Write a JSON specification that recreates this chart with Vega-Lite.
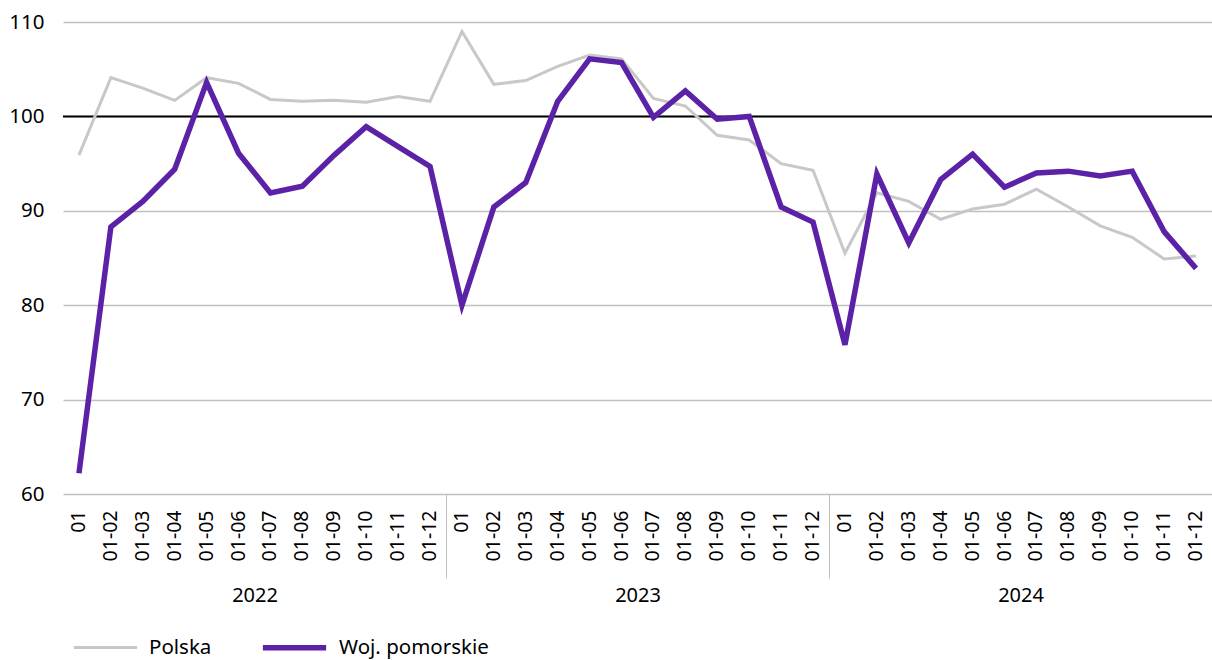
{
  "$schema": "https://vega.github.io/schema/vega-lite/v6.json",
  "width": 1149,
  "height": 472,
  "autosize": {"type": "none"},
  "padding": {"left": 63, "top": 22, "right": 0, "bottom": 166},
  "config": {"view": {"stroke": null}, "font": "Noto Sans"},
  "layer": [
    {
      "data": {"values": [{}]},
      "mark": {"type": "rule", "color": "black", "strokeWidth": 2},
      "encoding": {"y": {"datum": 100}}
    },
    {
      "data": {"values": [
        {"t": "2022 01", "s": "Polska", "v": 95.9},
        {"t": "2022 01-02", "s": "Polska", "v": 104.1},
        {"t": "2022 01-03", "s": "Polska", "v": 103.0},
        {"t": "2022 01-04", "s": "Polska", "v": 101.7},
        {"t": "2022 01-05", "s": "Polska", "v": 104.1},
        {"t": "2022 01-06", "s": "Polska", "v": 103.5},
        {"t": "2022 01-07", "s": "Polska", "v": 101.8},
        {"t": "2022 01-08", "s": "Polska", "v": 101.6},
        {"t": "2022 01-09", "s": "Polska", "v": 101.7},
        {"t": "2022 01-10", "s": "Polska", "v": 101.5},
        {"t": "2022 01-11", "s": "Polska", "v": 102.1},
        {"t": "2022 01-12", "s": "Polska", "v": 101.6},
        {"t": "2023 01", "s": "Polska", "v": 109.0},
        {"t": "2023 01-02", "s": "Polska", "v": 103.4},
        {"t": "2023 01-03", "s": "Polska", "v": 103.8},
        {"t": "2023 01-04", "s": "Polska", "v": 105.3},
        {"t": "2023 01-05", "s": "Polska", "v": 106.5},
        {"t": "2023 01-06", "s": "Polska", "v": 106.1},
        {"t": "2023 01-07", "s": "Polska", "v": 101.9},
        {"t": "2023 01-08", "s": "Polska", "v": 101.1},
        {"t": "2023 01-09", "s": "Polska", "v": 98.0},
        {"t": "2023 01-10", "s": "Polska", "v": 97.5},
        {"t": "2023 01-11", "s": "Polska", "v": 95.0},
        {"t": "2023 01-12", "s": "Polska", "v": 94.3},
        {"t": "2024 01", "s": "Polska", "v": 85.5},
        {"t": "2024 01-02", "s": "Polska", "v": 91.9},
        {"t": "2024 01-03", "s": "Polska", "v": 91.0},
        {"t": "2024 01-04", "s": "Polska", "v": 89.1},
        {"t": "2024 01-05", "s": "Polska", "v": 90.2},
        {"t": "2024 01-06", "s": "Polska", "v": 90.7},
        {"t": "2024 01-07", "s": "Polska", "v": 92.3},
        {"t": "2024 01-08", "s": "Polska", "v": 90.4},
        {"t": "2024 01-09", "s": "Polska", "v": 88.4},
        {"t": "2024 01-10", "s": "Polska", "v": 87.2},
        {"t": "2024 01-11", "s": "Polska", "v": 84.9},
        {"t": "2024 01-12", "s": "Polska", "v": 85.2},
        {"t": "2022 01", "s": "Woj. pomorskie", "v": 62.2},
        {"t": "2022 01-02", "s": "Woj. pomorskie", "v": 88.3},
        {"t": "2022 01-03", "s": "Woj. pomorskie", "v": 91.0},
        {"t": "2022 01-04", "s": "Woj. pomorskie", "v": 94.4},
        {"t": "2022 01-05", "s": "Woj. pomorskie", "v": 103.6},
        {"t": "2022 01-06", "s": "Woj. pomorskie", "v": 96.1},
        {"t": "2022 01-07", "s": "Woj. pomorskie", "v": 91.9},
        {"t": "2022 01-08", "s": "Woj. pomorskie", "v": 92.6},
        {"t": "2022 01-09", "s": "Woj. pomorskie", "v": 95.9},
        {"t": "2022 01-10", "s": "Woj. pomorskie", "v": 98.9},
        {"t": "2022 01-11", "s": "Woj. pomorskie", "v": 96.8},
        {"t": "2022 01-12", "s": "Woj. pomorskie", "v": 94.7},
        {"t": "2023 01", "s": "Woj. pomorskie", "v": 80.0},
        {"t": "2023 01-02", "s": "Woj. pomorskie", "v": 90.4},
        {"t": "2023 01-03", "s": "Woj. pomorskie", "v": 93.0},
        {"t": "2023 01-04", "s": "Woj. pomorskie", "v": 101.6},
        {"t": "2023 01-05", "s": "Woj. pomorskie", "v": 106.1},
        {"t": "2023 01-06", "s": "Woj. pomorskie", "v": 105.7},
        {"t": "2023 01-07", "s": "Woj. pomorskie", "v": 99.9},
        {"t": "2023 01-08", "s": "Woj. pomorskie", "v": 102.7},
        {"t": "2023 01-09", "s": "Woj. pomorskie", "v": 99.7},
        {"t": "2023 01-10", "s": "Woj. pomorskie", "v": 100.0},
        {"t": "2023 01-11", "s": "Woj. pomorskie", "v": 90.4},
        {"t": "2023 01-12", "s": "Woj. pomorskie", "v": 88.8},
        {"t": "2024 01", "s": "Woj. pomorskie", "v": 75.8},
        {"t": "2024 01-02", "s": "Woj. pomorskie", "v": 93.9},
        {"t": "2024 01-03", "s": "Woj. pomorskie", "v": 86.6},
        {"t": "2024 01-04", "s": "Woj. pomorskie", "v": 93.3},
        {"t": "2024 01-05", "s": "Woj. pomorskie", "v": 96.0},
        {"t": "2024 01-06", "s": "Woj. pomorskie", "v": 92.5},
        {"t": "2024 01-07", "s": "Woj. pomorskie", "v": 94.0},
        {"t": "2024 01-08", "s": "Woj. pomorskie", "v": 94.2},
        {"t": "2024 01-09", "s": "Woj. pomorskie", "v": 93.7},
        {"t": "2024 01-10", "s": "Woj. pomorskie", "v": 94.2},
        {"t": "2024 01-11", "s": "Woj. pomorskie", "v": 87.8},
        {"t": "2024 01-12", "s": "Woj. pomorskie", "v": 83.9}
      ]},
      "mark": {"type": "line"},
      "encoding": {
        "x": {
          "field": "t", "type": "ordinal", "sort": null,
          "scale": {"type": "band", "paddingInner": 0, "paddingOuter": 0},
          "axis": {
            "orient": "bottom",
            "title": null, "labelAngle": -90, "labelFontSize": 19.5, "labelPadding": 16,
            "labelColor": "black", "domain": false, "grid": false, "ticks": false,
            "labelExpr": "split(datum.value, ' ')[1]"
          }
        },
        "y": {
          "field": "v", "type": "quantitative",
          "scale": {"domain": [60, 110], "nice": false, "zero": false},
          "axis": {
            "title": null, "values": [60, 70, 80, 90, 100, 110], "domain": false, "ticks": false,
            "grid": true, "gridColor": "#c0c0c0", "gridWidth": 1.3,
            "labelFontSize": 20.5, "labelPadding": 19, "labelColor": "black"
          }
        },
        "color": {
          "field": "s", "type": "nominal",
          "scale": {"domain": ["Polska", "Woj. pomorskie"], "range": ["#c8c8c8", "#5b21a6"]},
          "legend": {
            "title": null, "orient": "none", "legendX": 9, "legendY": 591, "direction": "horizontal",
            "symbolType": "stroke", "symbolSize": 4000, "labelFontSize": 20.5, "labelOffset": 10,
            "columnPadding": 39, "labelColor": "black"
          }
        },
        "strokeWidth": {
          "field": "s", "type": "nominal",
          "scale": {"domain": ["Polska", "Woj. pomorskie"], "range": [3, 5.5]},
          "legend": {
            "title": null, "orient": "none", "legendX": 9, "legendY": 591, "direction": "horizontal",
            "symbolType": "stroke", "symbolSize": 4000, "labelFontSize": 20.5, "labelOffset": 10,
            "columnPadding": 39, "labelColor": "black"
          }
        }
      }
    },
    {
      "data": {"values": [{"rok": "2022"}, {"rok": "2023"}, {"rok": "2024"}]},
      "mark": {"type": "rule", "opacity": 0},
      "encoding": {
        "x": {
          "field": "rok", "type": "ordinal",
          "scale": {"type": "band", "paddingInner": 0, "paddingOuter": 0},
          "axis": {
            "orient": "bottom",
            "title": null, "labelAngle": 0, "labelFontSize": 20, "labelPadding": 7, "labelColor": "black",
            "labelBaseline": "top",
            "domain": false, "grid": false, "ticks": true, "tickBand": "extent", "tickSize": 84,
            "tickColor": "#bfbfbf", "tickWidth": 1,
            "tickOpacity": {"condition": {"test": "(datum.value == '2022' || datum.value == '2023') && !datum.extra", "value": 1}, "value": 0}
          }
        }
      }
    }
  ],
  "resolve": {"scale": {"x": "independent"}}
}
